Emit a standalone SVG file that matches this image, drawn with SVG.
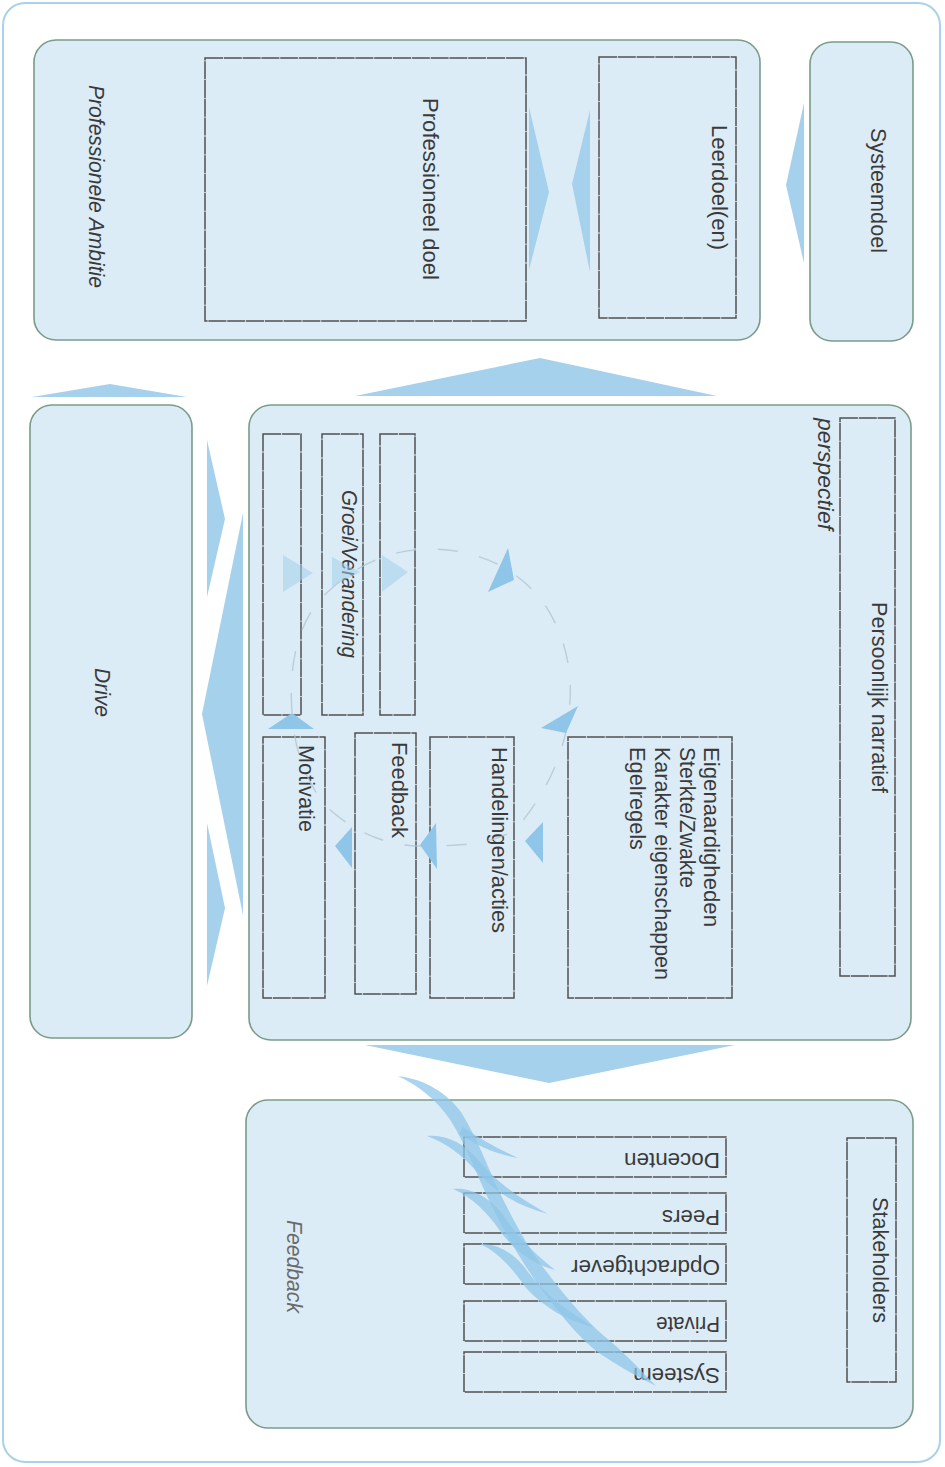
<svg xmlns="http://www.w3.org/2000/svg" width="945" height="1467" viewBox="0 0 945 1467">
<defs>
<style>
.box{fill:#dcecf6;stroke:#7a9c88;stroke-width:1.6}
.inner{fill:#dcecf6;stroke:#505050;stroke-width:1.5;stroke-dasharray:18 0.8}
.t{font-family:"Liberation Sans",Arial,sans-serif;font-size:21.5px;fill:#3a3a3a}
.it{font-style:italic}
.light{fill:#6a6a6a}
.arr{fill:#a6d1ec}
.arr2{fill:#8ec5e8}
.faint{fill:#a3cfeb;opacity:0.55}
.feather{fill:#8fc6e8;opacity:0.75}
</style>
</defs>
<rect x="3" y="3" width="937" height="1459" rx="22" fill="#ffffff" stroke="#a9d2e8" stroke-width="2"/>

<g id="professionele-ambitie">
<rect class="box" x="34" y="40" width="726" height="300" rx="22"/>
<text class="t it" transform="translate(89,85) rotate(90)" textLength="203" lengthAdjust="spacingAndGlyphs">Professionele Ambitie</text>
</g>
<g id="professioneel-doel">
<rect class="inner" x="205" y="58" width="321" height="263"/>
<text class="t" transform="translate(423,98) rotate(90)" textLength="182" lengthAdjust="spacingAndGlyphs">Professioneel doel</text>
</g>
<g id="leerdoelen">
<rect class="inner" x="599" y="57" width="137" height="261"/>
<text class="t" transform="translate(712,125) rotate(90)" textLength="125" lengthAdjust="spacingAndGlyphs">Leerdoel(en)</text>
</g>
<g id="systeemdoel">
<rect class="box" x="810" y="42" width="103" height="299" rx="22"/>
<text class="t" transform="translate(871,128) rotate(90)" textLength="125" lengthAdjust="spacingAndGlyphs">Systeemdoel</text>
</g>

<g id="drive">
<rect class="box" x="30" y="405" width="162" height="633" rx="22"/>
<text class="t it" transform="translate(95,668) rotate(90)" textLength="49" lengthAdjust="spacingAndGlyphs">Drive</text>
</g>

<g id="persoonlijk-perspectief">
<rect class="box" x="249" y="405" width="662" height="635" rx="22"/>
<text class="t it" transform="translate(818,418) rotate(90)" textLength="112" lengthAdjust="spacingAndGlyphs">perspectief</text>
</g>
<g id="persoonlijk-narratief">
<rect class="inner" x="840" y="418" width="55" height="558"/>
<text class="t" transform="translate(872,602) rotate(90)" textLength="191" lengthAdjust="spacingAndGlyphs">Persoonlijk narratief</text>
</g>
<g id="box-a">
<rect class="inner" x="263" y="434" width="38" height="281"/>
</g>
<g id="groei-verandering">
<rect class="inner" x="322" y="434" width="41" height="281"/>
<text class="t it" transform="translate(342,490) rotate(90)" textLength="168" lengthAdjust="spacingAndGlyphs">Groei/Verandering</text>
</g>
<g id="box-c">
<rect class="inner" x="380" y="434" width="35" height="281"/>
</g>
<g id="motivatie">
<rect class="inner" x="263" y="737" width="62" height="261"/>
<text class="t" transform="translate(299,745) rotate(90)" textLength="87" lengthAdjust="spacingAndGlyphs">Motivatie</text>
</g>
<g id="feedback-inner">
<rect class="inner" x="355" y="733" width="61" height="261"/>
<text class="t" transform="translate(392,742) rotate(90)" textLength="96" lengthAdjust="spacingAndGlyphs">Feedback</text>
</g>
<g id="handelingen">
<rect class="inner" x="430" y="737" width="84" height="261"/>
<text class="t" transform="translate(492,747) rotate(90)" textLength="186" lengthAdjust="spacingAndGlyphs">Handelingen/acties</text>
</g>
<g id="eigenschappen">
<rect class="inner" x="568" y="737" width="164" height="261"/>
<text class="t" transform="translate(704,747) rotate(90)" textLength="180" lengthAdjust="spacingAndGlyphs">Eigenaardigheden</text>
<text class="t" transform="translate(680,747) rotate(90)" textLength="141" lengthAdjust="spacingAndGlyphs">Sterkte/Zwakte</text>
<text class="t" transform="translate(655,747) rotate(90)" textLength="233" lengthAdjust="spacingAndGlyphs">Karakter eigenschappen</text>
<text class="t" transform="translate(630,747) rotate(90)" textLength="103" lengthAdjust="spacingAndGlyphs">Egelregels</text>
</g>

<g id="feedback">
<rect class="box" x="246" y="1100" width="667" height="328" rx="22"/>
<text class="t it light" transform="translate(287,1220) rotate(90)" textLength="93" lengthAdjust="spacingAndGlyphs">Feedback</text>
</g>
<g id="stakeholders">
<rect class="inner" x="847" y="1138" width="49" height="244"/>
<text class="t" transform="translate(873,1197) rotate(90)" textLength="126" lengthAdjust="spacingAndGlyphs">Stakeholders</text>
</g>
<g id="docenten">
<rect class="inner" x="464" y="1137" width="262" height="40"/>
<text class="t" transform="translate(720,1153) rotate(180)" textLength="96" lengthAdjust="spacingAndGlyphs">Docenten</text>
</g>
<g id="peers">
<rect class="inner" x="464" y="1193" width="262" height="40"/>
<text class="t" transform="translate(720,1210) rotate(180)" textLength="58" lengthAdjust="spacingAndGlyphs">Peers</text>
</g>
<g id="opdrachtgever">
<rect class="inner" x="464" y="1244" width="262" height="40"/>
<text class="t" transform="translate(720,1260) rotate(180)" textLength="149" lengthAdjust="spacingAndGlyphs">Opdrachtgever</text>
</g>
<g id="private">
<rect class="inner" x="464" y="1301" width="262" height="40"/>
<text class="t" transform="translate(720,1317) rotate(180)" textLength="64" lengthAdjust="spacingAndGlyphs">Private</text>
</g>
<g id="systeem">
<rect class="inner" x="464" y="1352" width="262" height="40"/>
<text class="t" transform="translate(720,1368) rotate(180)" textLength="87" lengthAdjust="spacingAndGlyphs">Systeem</text>
</g>

<g id="connectors">
<polygon class="arr" points="529,107 549,192 529,270"/>
<polygon class="arr" points="590,110 572,184 590,272"/>
<polygon class="arr" points="804,103 786,185 804,263"/>
<polygon class="arr" points="32,397 110,384 187,397"/>
<polygon class="arr" points="355,396 540,358 717,396"/>
<polygon class="arr" points="207,440 225,519 207,597"/>
<polygon class="arr" points="243,513 202,714 243,915"/>
<polygon class="arr" points="207,823 225,908 207,986"/>
<polygon class="arr" points="365,1045 735,1045 549,1083"/>
<path d="M292,713 C288,660 300,615 330,590 C360,562 395,549 430,549 C480,549 520,570 545,605 C565,635 572,670 570,700 C568,745 550,790 515,830 C490,845 455,846 420,846 C385,846 350,830 325,805 C305,780 294,748 292,713 Z" fill="none" stroke="#b3c6d2" stroke-width="1.4" stroke-dasharray="20 22" opacity="0.8"/>
<polygon class="arr2" points="508,548 488,592 514,580"/>
<polygon class="arr2" points="578,706 541,728 566,733"/>
<polygon class="arr2" points="543,822 525,841 543,863"/>
<polygon class="arr2" points="436,823 420,845 437,869"/>
<polygon class="arr2" points="352,827 335,846 352,868"/>
<polygon class="arr2" points="268,729 292,713 314,729"/>
<polygon class="faint" points="283,555 313,573 283,592"/>
<polygon class="faint" points="332,557 360,572 332,587"/>
<polygon class="faint" points="382,555 408,572 382,592"/>
<path class="feather" d="M398,1076 C425,1079 448,1094 461,1112 C478,1140 487,1165 497,1187 C513,1220 529,1250 546,1271 C568,1300 590,1325 610,1341 C630,1358 645,1375 656,1386 C640,1378 618,1366 599,1353 C576,1336 554,1306 536,1282 C518,1255 500,1225 487,1196 C475,1170 464,1142 451,1121 C437,1100 419,1086 398,1076 Z"/>
<path class="feather" d="M463,1127 C480,1139 498,1149 518,1158 C495,1154 478,1146 459,1134 Z"/>
<path class="feather" d="M427,1136 C446,1134 464,1143 479,1161 C498,1184 523,1200 548,1214 C520,1207 496,1193 477,1172 C464,1157 447,1143 427,1136 Z"/>
<path class="feather" d="M453,1189 C472,1187 490,1198 503,1215 C518,1238 536,1255 555,1270 C530,1263 513,1249 500,1231 C488,1213 472,1197 453,1189 Z"/>
<path class="feather" d="M480,1244 C499,1243 516,1255 528,1272 C546,1296 569,1312 594,1327 C566,1321 544,1307 526,1288 C513,1269 498,1252 480,1244 Z"/>
</g>
</svg>
